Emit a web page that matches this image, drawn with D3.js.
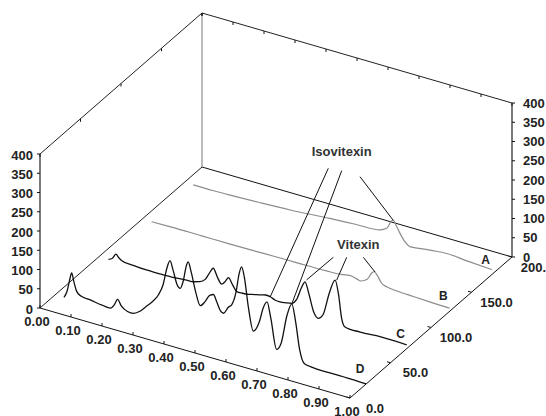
<!DOCTYPE html>
<html><head><meta charset="utf-8">
<script src="https://cdn.jsdelivr.net/npm/d3@7"></script>
<style>body{margin:0;background:#fff}svg{display:block}</style>
</head><body>
<svg id="chart" width="546" height="416"></svg>
<script>
// ---------- data ----------
const xTicks = [0,0.1,0.2,0.3,0.4,0.5,0.6,0.7,0.8,0.9,1.0];
const xTickLabels = ["0.00","0.10","0.20","0.30","0.40","0.50","0.60","0.70","0.80","0.90","1.00"];
const zTicks = [0,50,100,150,200];
const zTickLabels = ["0.0","50.0","100.0","150.0","200.0"];
const hTicks = [0,50,100,150,200,250,300,350,400];
const hTickLabels = ["0","50","100","150","200","250","300","350","400"];

const seriesNames = ["A","B","C","D"];
const seriesDepth = [175,123,70,20];

const seriesA_x = [0.037,0.1,0.156,0.25,0.35,0.478,0.56,0.64,0.662,0.675,0.682,0.69,0.704,0.72,0.736,0.77,0.81,0.855,0.92,1.0];
const seriesA_h = [8,8,9,12,16,24,28,32,42,62,67,58,38,20,11,14,18,21,17,13];

const seriesB_x = [0.039,0.1,0.2,0.292,0.4,0.5,0.6,0.65,0.68,0.70,0.715,0.735,0.748,0.757,0.767,0.78,0.797,0.83,0.883,0.95,1.0];
const seriesB_h = [8,9,9,9,10,11,12,14,18,14,12,22,40,46,38,22,16,13,11,9,8];

const seriesC_x = [0.038,0.05,0.062,0.07,0.08,0.12,0.16,0.2,0.25,0.29,0.312,0.333,0.35,0.362,0.376,0.39,0.403,0.415,0.425,0.438,0.452,0.47,0.49,0.51,0.527,0.545,0.56,0.575,0.591,0.61,0.629,0.645,0.66,0.672,0.684,0.70,0.715,0.73,0.75,0.769,0.78,0.79,0.80,0.85,0.914,1.0];
const seriesC_h = [7,12,26,20,14,10,8,8,9,12,13,18,28,45,63,42,28,38,50,35,20,20,22,26,29,33,32,27,26,28,31,45,78,97,70,25,12,25,85,124,90,30,10,8,11,10];

const seriesD_x = [0.025,0.035,0.043,0.050,0.057,0.066,0.08,0.11,0.15,0.175,0.187,0.198,0.21,0.23,0.25,0.27,0.29,0.31,0.33,0.345,0.357,0.367,0.377,0.39,0.40,0.41,0.42,0.426,0.435,0.45,0.465,0.48,0.495,0.507,0.518,0.53,0.54,0.555,0.566,0.58,0.59,0.598,0.607,0.62,0.636,0.655,0.668,0.68,0.692,0.711,0.725,0.745,0.76,0.772,0.785,0.80,0.82,0.88,0.94,1.0];
const seriesD_h = [-3,15,45,66,45,22,13,10,5,4,15,32,18,8,8,18,35,52,75,105,150,172,150,115,108,130,172,183,160,110,78,92,112,117,100,80,76,95,104,140,190,210,185,110,52,80,120,138,100,22,40,120,152,110,40,6,3,1,1,0];

const seriesX = [seriesA_x, seriesB_x, seriesC_x, seriesD_x];
const seriesH = [seriesA_h, seriesB_h, seriesC_h, seriesD_h];

// annotation targets (series, retention x, height)
const isovitexinTargets = [{s:"D",x:0.69,h:153},{s:"D",x:0.761,h:154},{s:"A",x:0.682,h:67}];
const vitexinTargets = [{s:"C",x:0.677,h:103},{s:"C",x:0.774,h:125},{s:"B",x:0.759,h:46}];

// ---------- projection ----------
const sx  = d3.scaleLinear().domain([0,1]).range([40,350]);
const sxy = d3.scaleLinear().domain([0,1]).range([0,90]);
const szx = d3.scaleLinear().domain([0,200]).range([0,162]);
const szy = d3.scaleLinear().domain([0,200]).range([0,-141]);
const sh  = d3.scaleLinear().domain([0,400]).range([308,154]);
const P = (x,z,h) => [sx(x)+szx(z), sh(h)+sxy(x)+szy(z)];

const svg = d3.select("#chart");
const FONT = "'Liberation Sans', Arial, Helvetica, sans-serif";

function seg(a,b,color,w){
  svg.append("line").attr("x1",a[0]).attr("y1",a[1]).attr("x2",b[0]).attr("y2",b[1])
    .attr("stroke",color||"#000").attr("stroke-width",w||1);
}

// frame
seg(P(0,0,0),P(1,0,0),"#111",1);
seg(P(1,0,0),P(1,200,0),"#111",1);
seg(P(0,0,0),P(0,0,400),"#222",1.2);
seg(P(1,200,0),P(1,200,400),"#222",1.2);
seg(P(0,0,0),P(0,200,0),"#222",1);
seg(P(0,200,0),P(1,200,0),"#111",1);
seg(P(0,200,0),P(0,200,400),"#777",1);
seg(P(0,0,400),P(0,200,400),"#222",1);
seg(P(0,200,400),P(1,200,400),"#222",1);

// ticks
xTicks.forEach(t=>{
  const a=P(t,0,0); seg(a,[a[0],a[1]-3],"#111",1);
  const b=P(t,200,400); seg(b,[b[0],b[1]+3],"#111",1);
});
zTicks.forEach(t=>{
  const a=P(1,t,0); seg(a,[a[0]-3.5,a[1]-1],"#111",1);
  const b=P(0,t,400); seg(b,[b[0],b[1]+3],"#111",1);
});
hTicks.forEach(t=>{
  const a=P(0,0,t); seg([a[0]-3,a[1]],a,"#111",1);
  const b=P(1,200,t); seg(b,[b[0]+3,b[1]],"#111",1);
});

// traces
const line = d3.line().curve(d3.curveMonotoneX);
const colors = ["#8c8c8c","#8c8c8c","#111","#111"];
const widths = [1.2,1.2,1.3,1.3];
seriesNames.forEach((n,i)=>{
  const pts = seriesX[i].map((x,j)=>P(x,seriesDepth[i],seriesH[i][j]));
  svg.append("path").attr("d",line(pts)).attr("fill","none")
    .attr("stroke",colors[i]).attr("stroke-width",widths[i]).attr("stroke-linejoin","round");
  const lp = P(0.98,seriesDepth[i],0);
  svg.append("text").attr("x",lp[0]).attr("y",lp[1]-13).text(n)
    .attr("text-anchor","middle").attr("dominant-baseline","central")
    .attr("font-family",FONT).attr("font-weight","bold").attr("font-size",12).attr("fill","#222");
});

// annotations
const depthOf = s => seriesDepth[seriesNames.indexOf(s)];
function annotate(label, cx, cy, targets, starts){
  svg.append("text").attr("x",cx).attr("y",cy).text(label)
    .attr("text-anchor","middle").attr("dominant-baseline","central")
    .attr("font-family",FONT).attr("font-weight","bold").attr("font-size",13).attr("fill","#333");
  targets.forEach((t,i)=>{
    const e=P(t.x,depthOf(t.s),t.h);
    seg([cx+starts[i][0],cy+starts[i][1]],e,"#111",1);
  });
}
annotate("Isovitexin",341.7,151.7,isovitexinTargets,[[-13.4,16.6],[0,19],[18.3,25]]);
annotate("Vitexin",358.3,244,vitexinTargets,[[-25,13.3],[-11.6,13.3],[5,13.3]]);

// tick labels
const tstyle = s => s.attr("font-family",FONT).attr("font-weight","bold").attr("font-size",13).attr("fill","#222");
xTicks.forEach((t,i)=>{
  const a=P(t,0,0);
  tstyle(svg.append("text").attr("x",a[0]-3).attr("y",a[1]+13).text(xTickLabels[i])
    .attr("text-anchor","middle").attr("dominant-baseline","central"));
});
hTicks.forEach((t,i)=>{
  const a=P(0,0,t);
  tstyle(svg.append("text").attr("x",a[0]-7).attr("y",a[1]+1).text(hTickLabels[i])
    .attr("text-anchor","end").attr("dominant-baseline","central"));
  const b=P(1,200,t);
  tstyle(svg.append("text").attr("x",b[0]+11).attr("y",b[1]).text(hTickLabels[i])
    .attr("text-anchor","start").attr("dominant-baseline","central"));
});
zTicks.forEach((t,i)=>{
  const a=P(1,t,0);
  tstyle(svg.append("text").attr("x",a[0]+25).attr("y",a[1]+10).text(zTickLabels[i])
    .attr("text-anchor","middle").attr("dominant-baseline","central"));
});
</script>
</body></html>
